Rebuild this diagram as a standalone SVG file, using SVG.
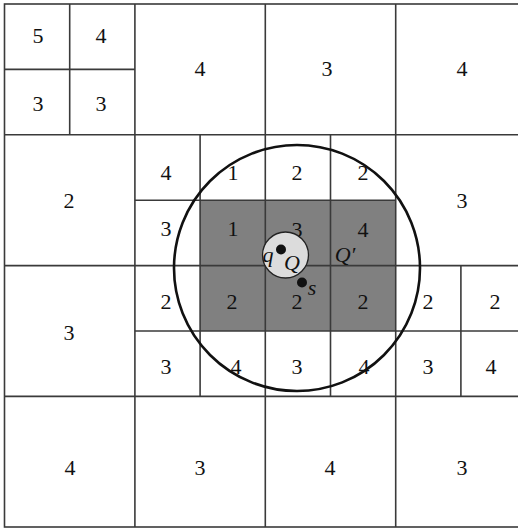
<svg xmlns="http://www.w3.org/2000/svg" width="518" height="529" viewBox="0 0 518 529">
<style>
.g{stroke:#3a3a3a;stroke-width:1.6;fill:none}
.t{font-family:"Liberation Serif","Times New Roman",serif;font-size:22px;fill:#111;text-anchor:middle}
.i{font-family:"Liberation Serif","Times New Roman",serif;font-size:22px;font-style:italic;fill:#111;text-anchor:middle}
</style>
<rect width="518" height="529" fill="#fff"/>
<g id="shaded">
<rect x="200.1" y="200.2" width="195.6" height="130.8" fill="#808080"/>
</g>
<g id="grid" class="g">
<rect x="4.5" y="4" width="521.5" height="523"/>
<line x1="4.5" y1="69.4" x2="134.9" y2="69.4"/>
<line x1="4.5" y1="134.8" x2="526" y2="134.8"/>
<line x1="134.9" y1="200.2" x2="395.7" y2="200.2"/>
<line x1="4.5" y1="265.6" x2="526" y2="265.6"/>
<line x1="134.9" y1="331" x2="526" y2="331"/>
<line x1="4.5" y1="396.4" x2="526" y2="396.4"/>
<line x1="69.7" y1="4" x2="69.7" y2="134.8"/>
<line x1="134.9" y1="4" x2="134.9" y2="527"/>
<line x1="200.1" y1="134.8" x2="200.1" y2="396.4"/>
<line x1="265.3" y1="4" x2="265.3" y2="527"/>
<line x1="330.5" y1="134.8" x2="330.5" y2="396.4"/>
<line x1="395.7" y1="4" x2="395.7" y2="527"/>
<line x1="460.9" y1="265.6" x2="460.9" y2="396.4"/>
</g>
<g id="labels">
<text class="t" x="38" y="43">5</text>
<text class="t" x="101" y="43">4</text>
<text class="t" x="38" y="111">3</text>
<text class="t" x="101" y="111">3</text>
<text class="t" x="200" y="76">4</text>
<text class="t" x="327" y="76">3</text>
<text class="t" x="462" y="76">4</text>
<text class="t" x="69" y="208">2</text>
<text class="t" x="166" y="180">4</text>
<text class="t" x="233" y="180">1</text>
<text class="t" x="297" y="180">2</text>
<text class="t" x="363" y="180">2</text>
<text class="t" x="166" y="236">3</text>
<text class="t" x="233" y="236">1</text>
<text class="t" x="297" y="237">3</text>
<text class="t" x="363" y="237">4</text>
<text class="t" x="462" y="208">3</text>
<text class="t" x="69" y="340">3</text>
<text class="t" x="166" y="309">2</text>
<text class="t" x="232" y="309">2</text>
<text class="t" x="297" y="309">2</text>
<text class="t" x="363" y="309">2</text>
<text class="t" x="428" y="309">2</text>
<text class="t" x="495" y="309">2</text>
<text class="t" x="166" y="374">3</text>
<text class="t" x="236" y="374">4</text>
<text class="t" x="297" y="374">3</text>
<text class="t" x="364" y="374">4</text>
<text class="t" x="428" y="374">3</text>
<text class="t" x="491" y="374">4</text>
<text class="t" x="70" y="475">4</text>
<text class="t" x="200" y="475">3</text>
<text class="t" x="330" y="475">4</text>
<text class="t" x="462" y="475">3</text>
</g>
<g id="bigCircle">
<circle cx="297" cy="268" r="123" fill="none" stroke="#111" stroke-width="2.6"/>
</g>
<g id="Q">
<circle cx="285.5" cy="255" r="23" fill="#dcdcdc" stroke="#222" stroke-width="1.3"/>
<circle cx="281" cy="249.5" r="5" fill="#111"/>
<text class="i" x="268" y="262">q</text>
<text class="i" x="292" y="270">Q</text>
</g>
<g id="s">
<circle cx="302" cy="282.5" r="5" fill="#111"/>
<text class="i" x="312" y="295">s</text>
</g>
<g id="Qprime">
<text class="i" x="345" y="262">Q′</text>
</g>
</svg>
